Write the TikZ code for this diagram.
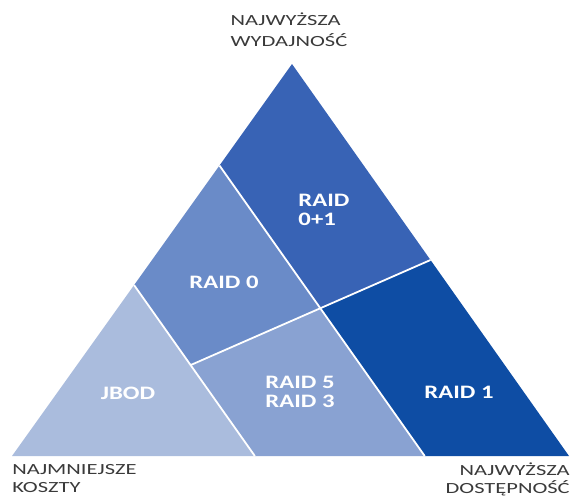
\documentclass[tikz,border=0pt]{standalone}
\usepackage{fontspec}
\setmainfont{Carlito}
\usepackage{xcolor}
\usetikzlibrary{calc}
\definecolor{jbodblue}{HTML}{AABCDD}
\definecolor{raidzeroblue}{HTML}{6A8BC8}
\definecolor{raidfiveblue}{HTML}{89A2D2}
\definecolor{raidzerooneblue}{HTML}{3863B5}
\definecolor{raidoneblue}{HTML}{0E4DA4}
\definecolor{cornergray}{HTML}{3A3A3A}
\tikzset{
  raidsplit/.style={draw=white,line width=1.8pt},
  raidlabel/.style={text=white,font=\bfseries\fontsize{19}{18.5}\selectfont,xscale=1.3,align=left,inner sep=0pt},
  cornerlabel/.style={text=cornergray,font=\fontsize{15.5}{#1}\selectfont,xscale=1.45,inner sep=0pt},
  cornerlabel/.default=18
}

\begin{document}
\begin{tikzpicture}[x=1pt,y=-1pt]
  \useasboundingbox (0,0) rectangle (575,496);
  \coordinate (top) at (292,64);
  \coordinate (left) at (12,456);
  \coordinate (right) at (569,456);
  \coordinate (j1) at ($(left)!0.436!(top)$);
  \coordinate (j2) at ($(left)!0.436!(right)$);
  \coordinate (m1) at ($(left)!0.741!(top)$);
  \coordinate (m2) at ($(left)!0.741!(right)$);
  \coordinate (c1) at ($(j1)!0.468!(j2)$);
  \coordinate (c2) at ($(top)!0.5!(right)$);
  \coordinate (mid) at (intersection of m1--m2 and c1--c2);
  \fill[jbodblue] (left) -- (j1) -- (j2) -- cycle;
  \fill[raidzeroblue] (j1) -- (m1) -- (mid) -- (c1) -- cycle;
  \fill[raidfiveblue] (c1) -- (mid) -- (m2) -- (j2) -- cycle;
  \fill[raidzerooneblue] (m1) -- (top) -- (c2) -- (mid) -- cycle;
  \fill[raidoneblue] (mid) -- (c2) -- (right) -- (m2) -- cycle;
  \draw[raidsplit] (j1) -- (j2);
  \draw[raidsplit] (m1) -- (m2);
  \draw[raidsplit] (c1) -- (c2);
  \node[raidlabel] (jbod) at (128,393) {JBOD};
  \node[raidlabel] (raid0) at (224,282) {RAID 0};
  \node[raidlabel] (raid53) at (300,392) {RAID 5\\RAID 3};
  \node[raidlabel] (raid01) at (324,210) {RAID\\0+1};
  \node[raidlabel] (raid1) at (459,392) {RAID 1};
  \node[cornerlabel=21,align=left] (speed) at (289,30) {NAJWYŻSZA\\WYDAJNOŚĆ};
  \node[cornerlabel,align=left,anchor=west] (cost) at (12,479) {NAJMNIEJSZE\\KOSZTY};
  \node[cornerlabel,align=right,anchor=east] (avail) at (570,479) {NAJWYŻSZA\\DOSTĘPNOŚĆ};
\end{tikzpicture}
\end{document}
